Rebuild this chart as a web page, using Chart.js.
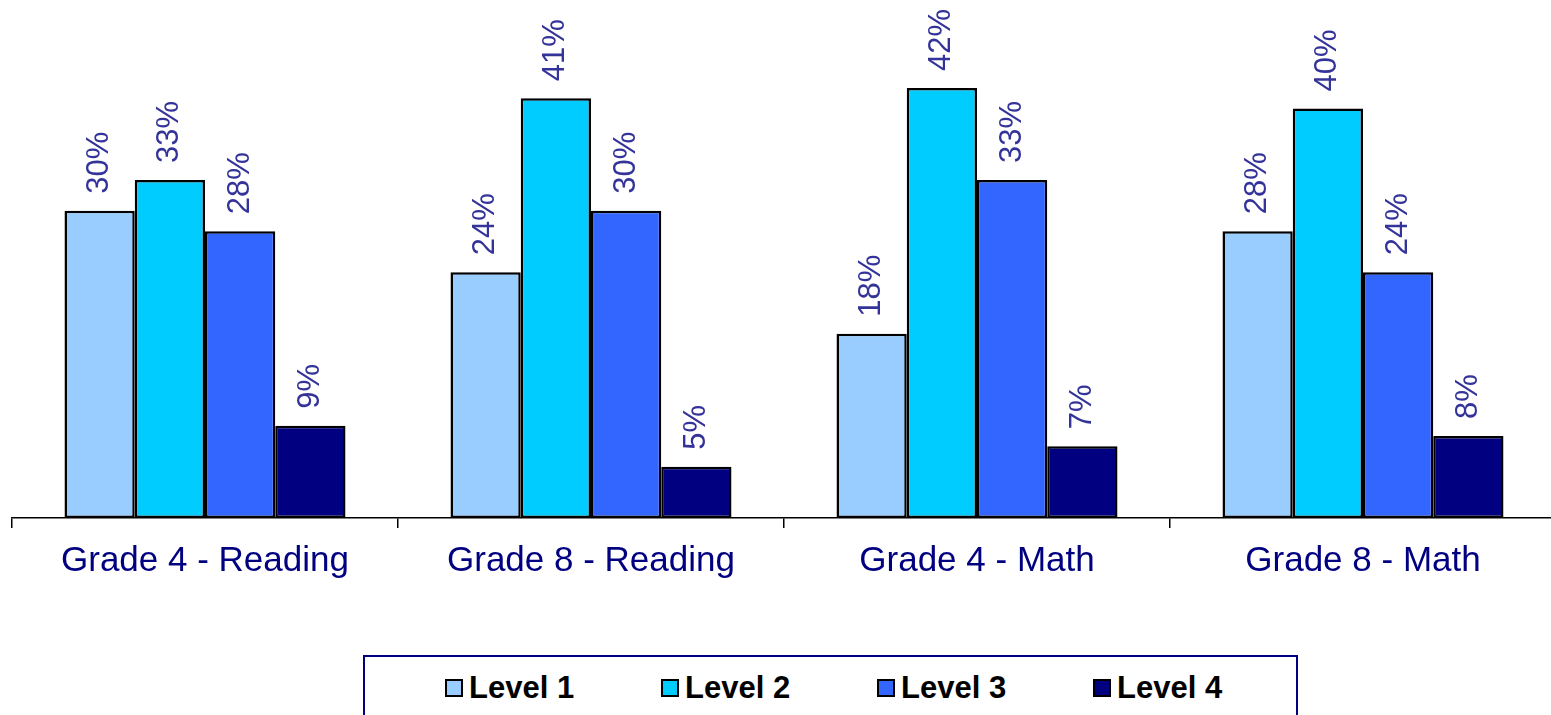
<!DOCTYPE html>
<html>
<head>
<meta charset="utf-8">
<title>Levels by grade</title>
<script src="https://cdn.jsdelivr.net/npm/chart.js@4"></script>
<style>
	html, body { margin: 0; padding: 0; background: #fff; overflow: hidden; }
	#wrap { position: absolute; left: 0; top: 0; width: 1556px; height: 600px; }
	#legend {
		position: absolute; left: 363px; top: 655px; width: 935px; height: 80px;
		border: 2px solid #000080; box-sizing: border-box;
		font-family: "Liberation Sans", Arial, sans-serif; font-weight: bold; font-size: 31px; color: #000;
	}
	#legend .item { position: absolute; top: 13px; display: flex; align-items: center; }
	#legend .box { width: 14px; height: 14px; border: 2px solid #000; margin-right: 6px; }
</style>
</head>
<body>
<div id="wrap"><canvas id="chart" width="1556" height="600"></canvas></div>
<div id="legend"></div>

<script>
var categories = ['Grade 4 - Reading', 'Grade 8 - Reading', 'Grade 4 - Math', 'Grade 8 - Math'];
var seriesNames = ['Level 1', 'Level 2', 'Level 3', 'Level 4'];
var level1 = [30, 24, 18, 28];
var level2 = [33, 41, 42, 40];
var level3 = [28, 30, 33, 24];
var level4 = [9, 5, 7, 8];
var colors = ['#99CCFF', '#00CCFF', '#3366FF', '#000080'];

var FONT = '"Liberation Sans", Arial, sans-serif';

// rotated percent labels above each bar
var barLabels = {
	id: 'barLabels',
	afterDatasetsDraw: function(chart) {
		var ctx = chart.ctx;
		ctx.save();
		ctx.fillStyle = '#333399';
		ctx.font = '31px ' + FONT;
		ctx.textAlign = 'left';
		ctx.textBaseline = 'middle';
		chart.data.datasets.forEach(function(ds, i) {
			chart.getDatasetMeta(i).data.forEach(function(bar, j) {
				ctx.save();
				ctx.translate(bar.x, bar.y - 17);
				ctx.rotate(-Math.PI / 2);
				ctx.fillText(ds.data[j] + '%', 0, 0);
				ctx.restore();
			});
		});
		ctx.restore();
	}
};

var allData = [level1, level2, level3, level4];

new Chart(document.getElementById('chart'), {
	type: 'bar',
	data: {
		labels: categories,
		datasets: allData.map(function(d, i) {
			return {
				label: seriesNames[i],
				data: d,
				backgroundColor: colors[i],
				borderColor: '#000',
				borderWidth: 2.5,
				borderSkipped: false,
				barPercentage: 1,
				categoryPercentage: 0.728
			};
		})
	},
	options: {
		responsive: false,
		animation: false,
		layout: { padding: { left: 12, right: 0, top: 6, bottom: 6 } },
		plugins: {
			legend: { display: false },
			tooltip: { enabled: false }
		},
		scales: {
			y: { display: false, min: 0, max: 50 },
			x: {
				border: { display: true, color: '#000', width: 1.5 },
				grid: { offset: true, drawOnChartArea: false, drawTicks: true, tickLength: 10, color: '#000', lineWidth: 1.5 },
				ticks: { color: '#000080', font: { family: FONT, size: 35 }, padding: 12, maxRotation: 0 }
			}
		}
	},
	plugins: [barLabels]
});

// legend box under the chart
var legend = document.getElementById('legend');
seriesNames.forEach(function(name, i) {
	var item = document.createElement('div');
	item.className = 'item';
	item.style.left = (80 + i * 216) + 'px';
	item.innerHTML = '<span class="box" style="background:' + colors[i] + '"></span>' + name;
	legend.appendChild(item);
});
</script>
</body>
</html>
